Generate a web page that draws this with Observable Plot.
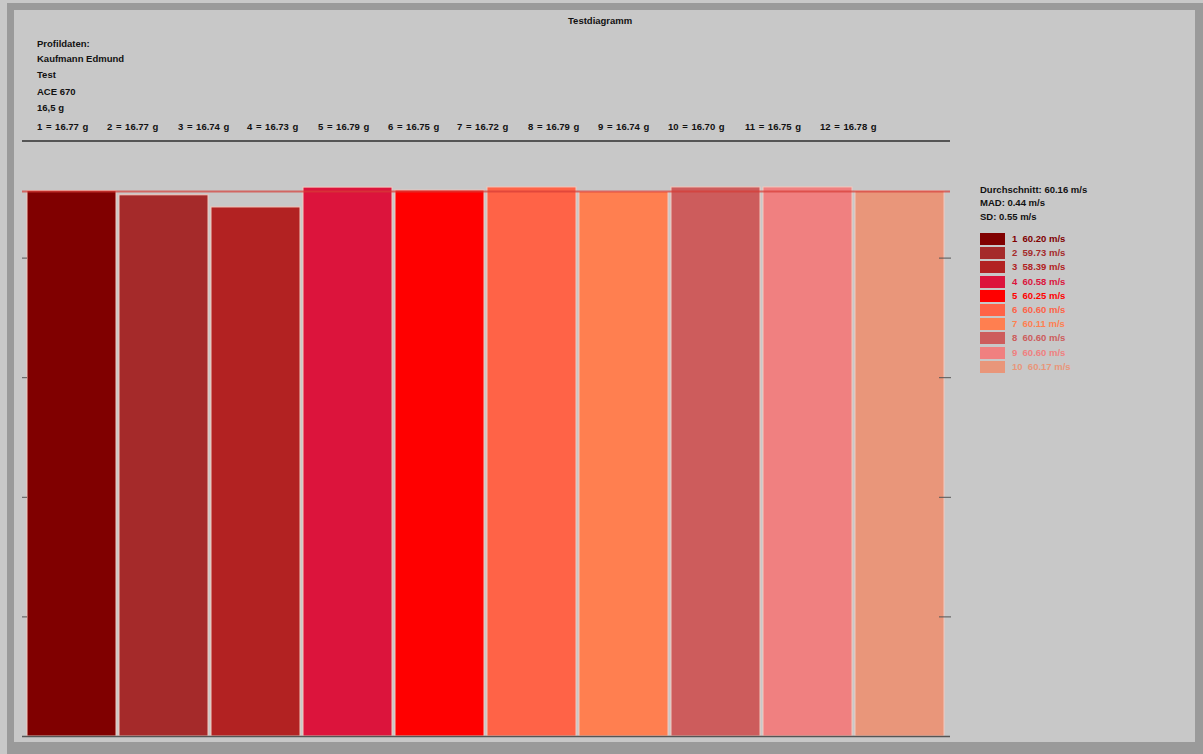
<!DOCTYPE html>
<html><head><meta charset="utf-8">
<script src="https://cdn.jsdelivr.net/npm/d3@7"></script>
<script src="https://cdn.jsdelivr.net/npm/@observablehq/plot@0.6"></script>
<style>
body{margin:0;background:#c8c8c8;}
#wrap{position:relative;width:1203px;height:754px;overflow:hidden;background:#c8c8c8;font-family:"Liberation Sans",Arial,sans-serif;font-weight:bold;font-size:9.5px;color:#111;}
#frame{position:absolute;left:7px;top:3px;width:1181px;height:732px;border-style:solid;border-color:#9a9a9a;border-width:7px 8px 12px 7px;}
.t{position:absolute;white-space:nowrap;}
#chart{position:absolute;left:0;top:0;}
.sw{position:absolute;width:25px;height:12px;}
</style></head>
<body><div id="wrap"><div id="frame"></div><div id="chart"></div></div>
<script>
const title = "Testdiagramm";
const profileLines = ["Profildaten:", "Kaufmann Edmund", "Test", "ACE 670", "16,5 g"];
const weightIds = [1,2,3,4,5,6,7,8,9,10,11,12];
const weights = ["16.77","16.77","16.74","16.73","16.79","16.75","16.72","16.79","16.74","16.70","16.75","16.78"];
const shots = [1,2,3,4,5,6,7,8,9,10];
const speeds = [60.20, 59.73, 58.39, 60.58, 60.25, 60.60, 60.11, 60.60, 60.60, 60.17];
const colors = ["#800000","#a52a2a","#b22222","#dc143c","#ff0000","#ff6347","#ff7f50","#cd5c5c","#f08080","#e9967a"];
const average = 60.16, mad = 0.44, sd = 0.55;
const yTicks = [13.2, 26.4, 39.6, 52.8];

const data = shots.map((s,i)=>({shot:String(s), v:speeds[i], c:colors[i]}));
const wrap = document.getElementById("wrap");

const plot = Plot.plot({
  width: 1203, height: 754,
  marginLeft: 22, marginRight: 253, marginTop: 138, marginBottom: 18,
  style: {background: "transparent", overflow: "visible"},
  x: {domain: shots.map(String), padding: 0.03, axis: null},
  y: {domain: [0, 66], axis: null},
  color: {type: "identity"},
  marks: [
    Plot.barY(data, {x: "shot", y: "v", fill: "c", stroke: "#f2c9bf", strokeWidth: 1}),
    Plot.ruleY([average], {stroke: "#d63c36", strokeWidth: 2, strokeOpacity: 0.7}),
    Plot.ruleY([0], {stroke: "#555", strokeWidth: 1.5}),
    Plot.axisY({anchor: "left", ticks: yTicks, tickSize: -5, tickFormat: () => "", label: null, stroke: "#555"}),
    Plot.axisY({anchor: "right", ticks: yTicks, tickSize: -12, tickFormat: () => "", label: null, stroke: "#555"})
  ]
});
document.getElementById("chart").appendChild(plot);

function txt(s, x, y, extra){
  const d = document.createElement("div");
  d.className = "t"; d.textContent = s;
  d.style.left = x + "px"; d.style.top = y + "px";
  if (extra) Object.assign(d.style, extra);
  wrap.appendChild(d); return d;
}
txt(title, 568, 15);
profileLines.forEach((s,i)=> txt(s, 37, [38,53,69,86,102][i]));
const wx = [37,107,178,247,318,388,457,528,598,668,745,820];
weightIds.forEach((id,i)=> txt(id + " = " + weights[i] + " g", wx[i], 121, {wordSpacing: "1px"}));
const hr = document.createElement("div");
Object.assign(hr.style,{position:"absolute",left:"22px",top:"140px",width:"928px",height:"1.5px",background:"#555"});
wrap.appendChild(hr);

txt("Durchschnitt: " + average.toFixed(2) + " m/s", 980, 184);
txt("MAD: " + mad.toFixed(2) + " m/s", 980, 197);
txt("SD: " + sd.toFixed(2) + " m/s", 980, 211);
shots.forEach((s,i)=>{
  const y = 233 + i*14.2;
  const sw = document.createElement("div");
  sw.className = "sw"; sw.style.left = "980px"; sw.style.top = y + "px"; sw.style.background = colors[i];
  wrap.appendChild(sw);
  txt(s + "  " + speeds[i].toFixed(2) + " m/s", 1012, y, {color: colors[i], whiteSpace: "pre"});
});
</script></body></html>
